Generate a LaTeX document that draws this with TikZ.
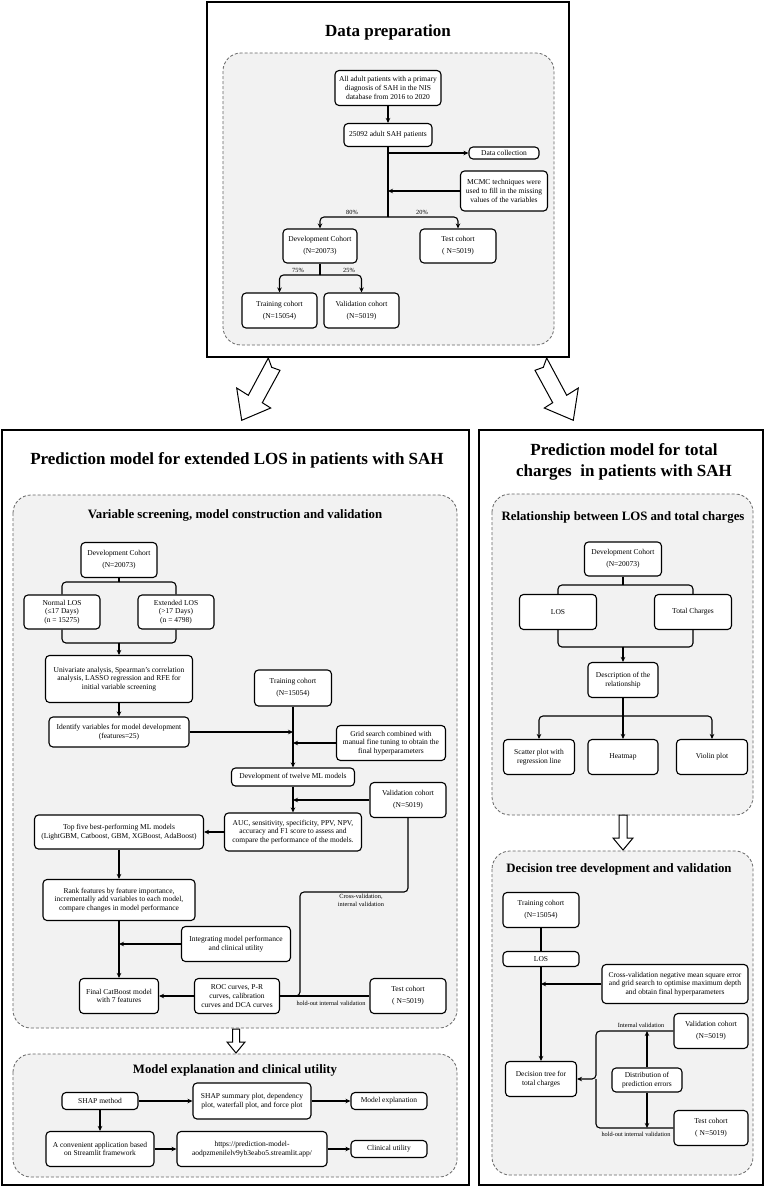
\documentclass[tikz,border=0pt]{standalone}
\usepackage{fontspec}
\setmainfont{Liberation Serif}
\usetikzlibrary{arrows.meta,calc}
\newcommand\boxfont{\fontsize{7.5}{8.8}\selectfont}
\newcommand\labfont{\fontsize{6.3}{8}\selectfont}
\newcommand\titlefont{\fontsize{17}{21}\selectfont\bfseries}
\newcommand\subfont{\fontsize{12.8}{15}\selectfont\bfseries}
\tikzset{
 box/.style={draw=black, line width=1.1pt, rounded corners=4pt, fill=white, align=center, inner sep=1pt, font=\boxfont, text=black},
 lab/.style={font=\labfont, inner sep=0.5pt, align=center},
 conn/.style={line width=1.1pt, rounded corners=4pt},
 arr/.style={conn, -{Stealth[length=5pt,width=4.5pt]}},
 panel/.style={draw=black, line width=1.6pt, fill=white},
 dbox/.style={draw=black!60, dash pattern=on 3pt off 2pt, line width=0.8pt, rounded corners=18pt, fill=black!5},
 hollow/.style={draw=black, line width=1pt, fill=white, line join=miter},
}
\begin{document}
\begin{tikzpicture}[x=1pt,y=-1pt]
\useasboundingbox (0,0) rectangle (767,1187);
% ================= TOP =================
\draw[panel] (207,2) rectangle (569,357);
\node[font=\titlefont] (t1) at (388,32) {Data preparation};
\draw[dbox] (223,53) rectangle (554,345);
\node[box, minimum width=106pt, minimum height=35pt] (all) at (388,88) {All adult patients with a primary\\diagnosis of SAH in the NIS\\database from 2016 to 2020};
\node[box, minimum width=88pt, minimum height=23pt] (n25092) at (388,135) {25092 adult SAH patients};
\node[box, minimum width=70pt, minimum height=12pt] (datacol) at (504,153) {Data collection};
\node[box, minimum width=87pt, minimum height=40pt] (mcmc) at (504,191) {MCMC techniques were\\used to fill in the missing\\values of the variables};
\node[box, minimum width=74pt, minimum height=34pt] (dev) at (320,246) {Development Cohort\\[3.5pt](N=20073)};
\node[box, minimum width=76pt, minimum height=34pt] (test) at (458,246) {Test cohort\\[3.5pt]( N=5019)};
\node[box, minimum width=75pt, minimum height=35pt] (train) at (279.5,310.5) {Training cohort\\[3.5pt](N=15054)};
\node[box, minimum width=75pt, minimum height=35pt] (valid) at (361.5,310.5) {Validation cohort\\[3.5pt](N=5019)};
\coordinate (split1) at (388,217);
\coordinate (split2) at (320,275);
\draw[arr] (all) -- (n25092);
\draw[conn] (n25092) -- (split1);
\draw[arr] (datacol -| split1) -- (datacol);
\draw[arr] (mcmc) -- (mcmc.west -| split1);
\draw[arr] (split1) -| (dev);
\draw[arr] (split1) -| (test);
\node[lab] (p80) at (352,212.5) {80\%};
\node[lab] (p20) at (422,212.5) {20\%};
\draw[conn] (dev) -- (split2);
\draw[arr] (split2) -| (train);
\draw[arr] (split2) -| (valid);
\node[lab] (p75) at (298,270.5) {75\%};
\node[lab] (p25) at (349,270.5) {25\%};
% big arrows
\draw[hollow] (268.3,358) -- (271.7,367.3) -- (280,370.3) -- (262.3,402.7) -- (270.7,408) -- (241.7,420.3) -- (236.7,388) -- (248.3,395.3) -- cycle;
\draw[hollow] (546.7,358) -- (543.3,367.3) -- (535,370.3) -- (552.7,402.7) -- (544.3,408) -- (573.3,420.3) -- (578.3,388) -- (566.7,395.3) -- cycle;
% ================= LEFT =================
\draw[panel] (2,430) rectangle (469,1185);
\node[font=\titlefont] (t2) at (237,460) {Prediction model for extended LOS in patients with SAH};
\draw[dbox] (13,495) rectangle (457,1028);
\node[font=\subfont] (s21) at (235,515) {Variable screening, model construction and validation};
\node[box, minimum width=76pt, minimum height=35pt] (ldev) at (119,560) {Development Cohort\\[3.5pt](N=20073)};
\node[box, minimum width=76pt, minimum height=34pt] (normal) at (62,612) {Normal LOS\\(≤17 Days)\\(n = 15275)};
\node[box, minimum width=76pt, minimum height=34pt] (extended) at (176,612) {Extended LOS\\(>17 Days)\\(n = 4798)};
\node[box, minimum width=147pt, minimum height=47pt] (univ) at (119,679) {Univariate analysis, Spearman's correlation\\analysis, LASSO regression and RFE for\\initial variable screening};
\node[box, minimum width=140pt, minimum height=30pt] (identify) at (119,732) {Identify variables for model development\\(features=25)};
\node[box, minimum width=77pt, minimum height=36pt] (ltrain) at (293,688) {Training cohort\\[3.5pt](N=15054)};
\node[box, minimum width=109pt, minimum height=35pt] (grid) at (391,743) {Grid search combined with\\manual fine tuning to obtain the\\final hyperparameters};
\node[box, minimum width=123pt, minimum height=18pt] (twelve) at (293,777) {Development of twelve ML models};
\node[box, minimum width=76pt, minimum height=35pt] (lvalid) at (408,800) {Validation cohort\\[3.5pt](N=5019)};
\node[box, minimum width=137pt, minimum height=38pt] (auc) at (293,832) {AUC, sensitivity, specificity, PPV, NPV,\\accuracy and F1 score to assess and\\compare the performance of the models.};
\node[box, minimum width=169pt, minimum height=34pt] (top5) at (119,832) {Top five best-performing ML models\\(LightGBM, Catboost, GBM, XGBoost, AdaBoost)};
\node[box, minimum width=152pt, minimum height=41pt] (rank) at (119,900) {Rank features by feature importance,\\incrementally add variables to each model,\\compare changes in model performance};
\node[box, minimum width=109pt, minimum height=35pt] (integ) at (236,944) {Integrating model performance\\and clinical utility};
\node[box, minimum width=79pt, minimum height=35pt] (final) at (119,996) {Final CatBoost model\\with 7 features};
\node[box, minimum width=85pt, minimum height=35pt] (roc) at (237,996) {ROC curves, P-R\\curves, calibration\\curves and DCA curves};
\node[box, minimum width=76pt, minimum height=35pt] (ltest) at (408,996) {Test cohort\\[3.5pt]( N=5019)};
\coordinate (lsplit) at (119,582);
\coordinate (lmerge) at (119,643);
\draw[conn] (ldev) -- (lsplit);
\draw[conn] (lsplit) -| (normal);
\draw[conn] (lsplit) -| (extended);
\draw[conn] (normal) |- (lmerge);
\draw[conn] (extended) |- (lmerge);
\draw[arr] (lmerge) -- (univ);
\draw[arr] (univ) -- (identify);
\draw[arr] (ltrain) -- (twelve);
\draw[arr] (identify) -- (identify -| ltrain);
\draw[arr] (grid) -- (grid -| ltrain);
\draw[arr] (twelve) -- (auc);
\draw[arr] (lvalid) -- (lvalid -| auc);
\draw[arr] (auc) -- (top5);
\draw[arr] (top5) -- (rank);
\draw[arr] (rank) -- (final);
\draw[arr] (integ) -- (integ -| final);
\draw[arr] (roc) -- (final);
\draw[conn] (ltest) -- (roc);
\draw[conn] (lvalid) |- (300,892) -- (300,996) -- (roc.east);
\node[lab] (cvlab) at (361,900.5) {Cross-validation,\\internal validation};
\node[lab] (holab) at (331,1003.5) {hold-out internal validation};
% hollow down arrow
\draw[hollow] (232.5,1029) -- (239.5,1029) -- (239.5,1042) -- (245,1042) -- (236,1053) -- (227,1042) -- (232.5,1042) -- cycle;
\draw[dbox] (13,1054) rectangle (457,1177);
\node[font=\subfont] (s22) at (235,1070) {Model explanation and clinical utility};
\node[box, minimum width=76pt, minimum height=17pt] (shap) at (100,1101) {SHAP method};
\node[box, minimum width=118pt, minimum height=36pt] (shapsum) at (252,1101) {SHAP summary plot, dependency\\plot, waterfall plot, and force plot};
\node[box, minimum width=76pt, minimum height=17pt] (modexp) at (389,1101) {Model explanation};
\node[box, minimum width=108pt, minimum height=35pt] (app) at (100,1149) {A convenient application based\\on Streamlit framework};
\node[box, minimum width=150pt, minimum height=35pt] (url) at (252,1149) {https://prediction-model-\\aodpzmenilelv9yb3eabo5.streamlit.app/};
\node[box, minimum width=76pt, minimum height=17pt] (clin) at (389,1149) {Clinical utility};
\draw[arr] (shap) -- (shapsum);
\draw[arr] (shapsum) -- (modexp);
\draw[arr] (shap) -- (app);
\draw[arr] (app) -- (url);
\draw[arr] (url) -- (clin);
% ================= RIGHT =================
\draw[panel] (479,430) rectangle (763,1185);
\node[font=\titlefont, align=center] (t3) at (624,462) {Prediction model for total\\charges\ \ in patients with SAH};
\draw[dbox] (492,494) rectangle (753,815);
\node[font=\subfont] (s31) at (623,517) {Relationship between LOS and total charges};
\node[box, minimum width=77pt, minimum height=34pt] (rdev) at (623,559) {Development Cohort\\[3.5pt](N=20073)};
\node[box, minimum width=77pt, minimum height=35pt] (rlos) at (558,612) {LOS};
\node[box, minimum width=77pt, minimum height=35pt] (rtc) at (693,612) {Total Charges};
\node[box, minimum width=70pt, minimum height=35pt] (desc) at (623,680) {Description of the\\relationship};
\node[box, minimum width=71pt, minimum height=35pt] (scatter) at (539,757) {Scatter plot with\\regression line};
\node[box, minimum width=70pt, minimum height=35pt] (heat) at (623,757) {Heatmap};
\node[box, minimum width=71pt, minimum height=35pt] (violin) at (712,757) {Violin plot};
\coordinate (rsplit) at (623,585);
\coordinate (rmerge) at (623,647);
\coordinate (rsplit2) at (623,716);
\draw[conn] (rdev) -- (rsplit);
\draw[conn] (rsplit) -| (rlos);
\draw[conn] (rsplit) -| (rtc);
\draw[conn] (rlos) |- (rmerge);
\draw[conn] (rtc) |- (rmerge);
\draw[arr] (rmerge) -- (desc);
\draw[conn] (desc) -- (rsplit2);
\draw[arr] (rsplit2) -| (scatter);
\draw[arr] (rsplit2) -- (heat);
\draw[arr] (rsplit2) -| (violin);
\draw[hollow] (619,815) -- (627,815) -- (627,838) -- (633,838) -- (623,850) -- (613,838) -- (619,838) -- cycle;
\draw[dbox] (492,851) rectangle (753,1175);
\node[font=\subfont] (s32) at (619,869) {Decision tree development and validation};
\node[box, minimum width=76pt, minimum height=35pt] (rtrain) at (541,910) {Training cohort\\[3.5pt](N=15054)};
\node[box, minimum width=76pt, minimum height=15pt] (rlos2) at (541,959) {LOS};
\node[box, minimum width=146pt, minimum height=39pt] (cv) at (675,984) {Cross-validation negative mean square error\\and grid search to optimise maximum depth\\and obtain final hyperparameters};
\node[box, minimum width=71pt, minimum height=35pt] (dtree) at (541,1079) {Decision tree for\\total charges};
\node[box, minimum width=74pt, minimum height=35pt] (rvalid) at (711,1031) {Validation cohort\\[3.5pt](N=5019)};
\node[box, minimum width=74pt, minimum height=35pt] (rtest) at (711,1128) {Test cohort\\[3.5pt]( N=5019)};
\node[box, minimum width=70pt, minimum height=24pt] (dist) at (647,1080) {Distribution of\\prediction errors};
\coordinate (jn) at (596,1079);
\draw[conn] (rtrain) -- (rlos2);
\draw[arr] (rlos2) -- (dtree);
\draw[arr] (cv) -- (cv -| rlos2);
\draw[arr] (rvalid) -| (jn) -- (dtree);
\draw[conn] (rtest) -| (jn);
\draw[arr] (dist) -- (dist |- rvalid);
\draw[arr] (dist) -- (dist |- rtest);
\node[lab] (ivlab) at (641,1025) {Internal validation};
\node[lab] (ho2lab) at (636,1134) {hold-out internal validation};
\end{tikzpicture}
\end{document}
